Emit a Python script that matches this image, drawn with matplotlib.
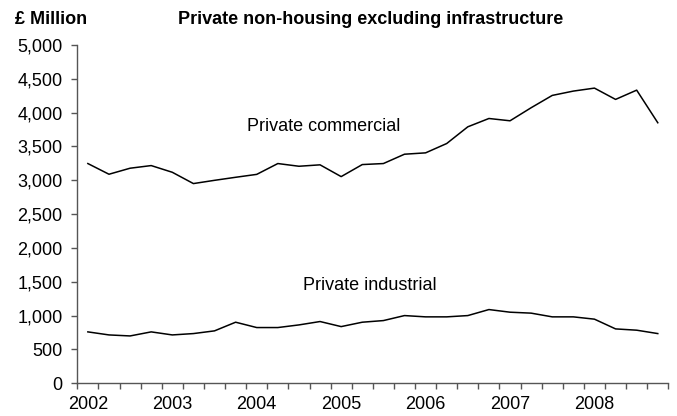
import matplotlib
matplotlib.use("Agg")
import matplotlib.pyplot as plt
import numpy as np

plt.rcParams['font.family'] = ['Liberation Sans', 'DejaVu Sans']

years = ["2002", "2003", "2004", "2005", "2006", "2007", "2008"]
quarters_per_year = 4

commercial = [3248, 3090, 3179, 3218, 3119, 2952, 3000, 3045, 3088, 3248,
              3208, 3229, 3055, 3233, 3248, 3386, 3406, 3544, 3791, 3914,
              3880, 4073, 4255, 4319, 4363, 4196, 4333, 3851]
industrial = [760, 715, 700, 760, 715, 735, 775, 903, 824, 824,
              863, 913, 838, 903, 927, 1001, 982, 982, 1001, 1090,
              1051, 1037, 982, 982, 948, 804, 785, 735]

y_ticks = [0, 500, 1000, 1500, 2000, 2500, 3000, 3500, 4000, 4500, 5000]

fig = plt.figure(figsize=(6.77, 4.16), dpi=100)
ax = fig.add_axes([0.1142, 0.0786, 0.9872 - 0.1142, 0.8918 - 0.0786])

x = np.arange(len(commercial))
ax.plot(x, commercial, color='black', lw=1.1)
ax.plot(x, industrial, color='black', lw=1.1)

ax.set_xlim(-0.5, len(commercial) - 0.5)
ax.set_ylim(0, 5000)

for s in ['top', 'right']:
    ax.spines[s].set_visible(False)
for s in ['left', 'bottom']:
    ax.spines[s].set_color('#555555')
    ax.spines[s].set_linewidth(1.0)

ax.set_yticks(y_ticks)
ax.set_yticklabels([f"{v:,}" for v in y_ticks])
ax.tick_params(axis='y', direction='out', length=4.5, width=1.0, color='#555555',
               labelsize=13, pad=6)

ax.set_xticks(np.arange(-0.5, len(commercial), 1))
ax.set_xticklabels([])
ax.tick_params(axis='x', which='major', direction='out', length=4, width=1.0, color='#555555')
ax.set_xticks(np.arange(0, len(commercial), quarters_per_year), minor=True)
ax.set_xticklabels(years, minor=True)
ax.tick_params(axis='x', which='minor', length=0, labelsize=13, pad=9)

fig.text(15 / 677, 1 - 20 / 416, "£ Million", fontsize=13, fontweight='bold', va='center', ha='left')
fig.text(178 / 677, 1 - 20 / 416, "Private non-housing excluding infrastructure", fontsize=13,
         fontweight='bold', va='center', ha='left')

fig.text(247 / 677, 1 - 126.5 / 416, "Private commercial", fontsize=13, va='center', ha='left')
fig.text(303 / 677, 1 - 286 / 416, "Private industrial", fontsize=13, va='center', ha='left')

fig.savefig("out.png", dpi=100)
